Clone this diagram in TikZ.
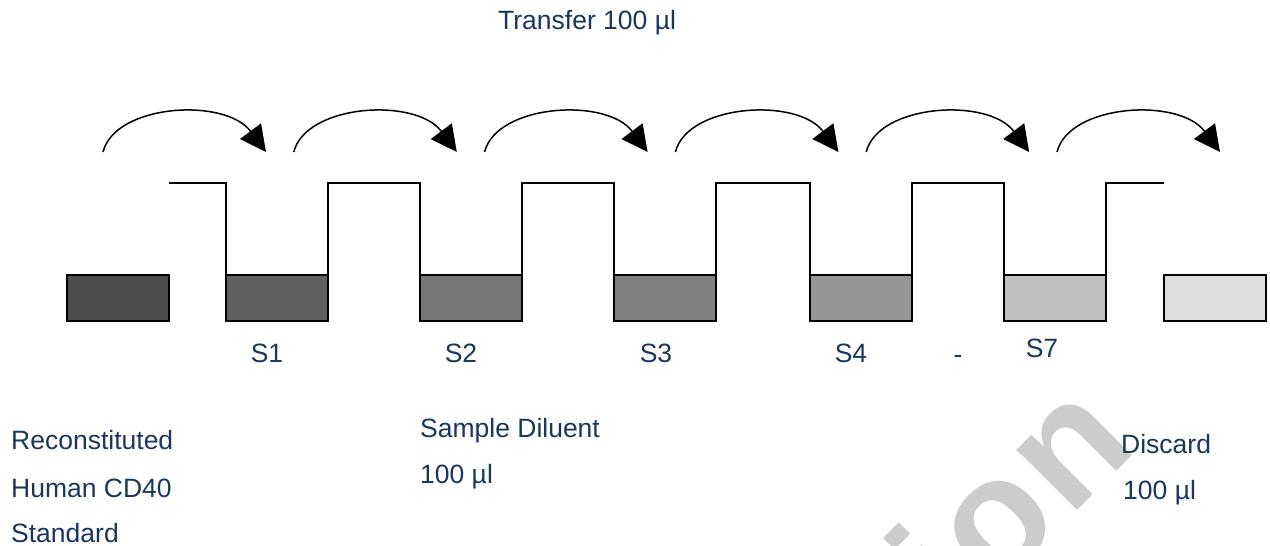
\documentclass[tikz,border=0pt]{standalone}
\usepackage{fontspec}
\setmainfont{Liberation Sans}
\usetikzlibrary{arrows.meta}
\definecolor{txt}{RGB}{23,55,94}
\definecolor{wmgray}{RGB}{204,204,204}
\begin{document}
\begin{tikzpicture}[x=1pt,y=-1pt,
  lbl/.style={text=txt, font=\fontsize{26.5}{30}\selectfont, inner sep=0pt, anchor=base west},
  slbl/.style={text=txt, font=\fontsize{26.5}{30}\selectfont, inner sep=0pt, anchor=base},
  well/.style={draw=black, line width=2pt, minimum width=102pt, minimum height=46pt, anchor=north west, inner sep=0pt, outer sep=0pt},
  wire/.style={draw=black, line width=1.5pt, line join=miter},
  xfer/.style={line width=1.5pt, -{Triangle[length=26pt,width=26pt]}}]
\useasboundingbox (0,0) rectangle (1270,546);
% watermark fragment
\node[rotate=45, anchor=base east, inner sep=0pt, text=wmgray, font=\fontsize{162}{162}\selectfont\bfseries\addfontfeature{LetterSpace=4}] (wm) at (1140,448) {ion};
% title
\node[lbl] (title) at (498,29) {Transfer 100 µl};
% transfer arrows
\foreach \i in {0,...,5} {
  \coordinate (as\i) at ({103+190.8*\i},152);
  \coordinate (ae\i) at ({266+190.8*\i},152);
  \draw[xfer] (as\i) .. controls +(12,-48) and +(-41,-55) .. (ae\i);
}
% wells
\node[well, fill={rgb,255:red,77;green,77;blue,77}] (s0) at (67,275) {};
\node[well, fill={rgb,255:red,97;green,97;blue,97}] (s1) at (226,275) {};
\node[well, fill={rgb,255:red,119;green,119;blue,119}] (s2) at (420,275) {};
\node[well, fill={rgb,255:red,128;green,128;blue,128}] (s3) at (614,275) {};
\node[well, fill={rgb,255:red,150;green,150;blue,150}] (s4) at (810,275) {};
\node[well, fill={rgb,255:red,192;green,192;blue,192}] (s7) at (1004,275) {};
\node[well, fill={rgb,255:red,221;green,221;blue,221}] (dd) at (1164,275) {};
% stepped tube walls
\coordinate (top) at (0,183);
\draw[wire] (s0.north east |- top) -- (s1.north west |- top) -- (s1.north west);
\draw[wire] (s1.north east) -- (s1.north east |- top) -- (s2.north west |- top) -- (s2.north west);
\draw[wire] (s2.north east) -- (s2.north east |- top) -- (s3.north west |- top) -- (s3.north west);
\draw[wire] (s3.north east) -- (s3.north east |- top) -- (s4.north west |- top) -- (s4.north west);
\draw[wire] (s4.north east) -- (s4.north east |- top) -- (s7.north west |- top) -- (s7.north west);
\draw[wire] (s7.north east) -- (s7.north east |- top) -- (dd.north west |- top);
% sample labels
\node[slbl] (l1) at (267,362) {S1};
\node[slbl] (l2) at (461,362) {S2};
\node[slbl] (l3) at (656,362) {S3};
\node[slbl] (l4) at (851,362) {S4};
\node[slbl] (ldash) at (958,363) {-};
\node[slbl] (l7) at (1042,357) {S7};
% bottom texts
\node[lbl] (r1) at (11,449) {Reconstituted};
\node[lbl] (r2) at (11,497) {Human CD40};
\node[lbl] (r3) at (11,542) {Standard};
\node[lbl] (sd1) at (420,437) {Sample Diluent};
\node[lbl] (sd2) at (420,483) {100 µl};
\node[lbl] (dc1) at (1121,453) {Discard};
\node[lbl] (dc2) at (1123,499) {100 µl};
\end{tikzpicture}
\end{document}
